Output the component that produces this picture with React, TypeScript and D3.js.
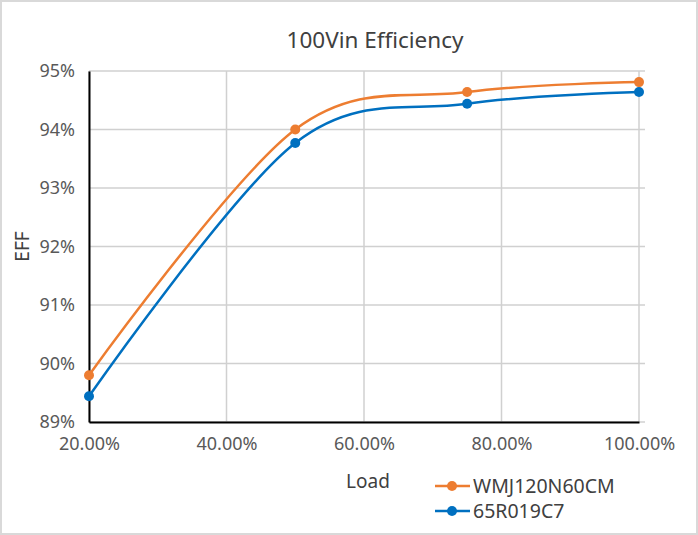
import React, { useEffect, useRef } from 'react';
import * as d3 from 'd3';

const loads = [0.2, 0.5, 0.75, 1.0];
const effWmj = [0.898, 0.94, 0.9464, 0.9481];
const eff65r = [0.8944, 0.9377, 0.9444, 0.9464];
const seriesNames = ['WMJ120N60CM', '65R019C7'];
const seriesColors = ['#ED7D31', '#0070C0'];
const xTicks = [0.2, 0.4, 0.6, 0.8, 1.0];
const yTicks = [0.89, 0.9, 0.91, 0.92, 0.93, 0.94, 0.95];

const width = 698;
const height = 535;
const font = "'Noto Sans', sans-serif";

const App: React.FC = () => {
  const ref = useRef<SVGSVGElement>(null);

  useEffect(() => {
    document.body.style.margin = '0';
    const svg = d3.select(ref.current);
    svg.selectAll('*').remove();

    const marginLeft = 89;
    const marginRight = 59;
    const marginTop = 71;
    const marginBottom = 113;

    const x = d3.scaleLinear().domain([0.2, 1.0]).range([marginLeft, width - marginRight]);
    const y = d3.scaleLinear().domain([0.89, 0.95]).range([height - marginBottom, marginTop]);

    // chart frame
    svg
      .append('rect')
      .attr('x', 1)
      .attr('y', 1)
      .attr('width', width - 2)
      .attr('height', height - 2)
      .attr('fill', '#fff')
      .attr('stroke', '#d9d9d9')
      .attr('stroke-width', 2);

    // title
    svg
      .append('text')
      .attr('x', 375)
      .attr('y', 48)
      .attr('text-anchor', 'middle')
      .attr('font-family', font)
      .attr('font-size', 22.5)
      .attr('fill', '#404040')
      .text('100Vin Efficiency');

    // gridlines
    const grid = svg.append('g').attr('stroke', '#d0d0d0').attr('stroke-width', 1.5);
    yTicks.forEach((t) => {
      grid
        .append('line')
        .attr('x1', marginLeft)
        .attr('x2', width - marginRight + 6)
        .attr('y1', y(t))
        .attr('y2', y(t));
    });
    xTicks.forEach((t) => {
      grid
        .append('line')
        .attr('x1', x(t))
        .attr('x2', x(t))
        .attr('y1', marginTop)
        .attr('y2', height - marginBottom);
    });

    // axes
    const xAxis = svg
      .append('g')
      .attr('transform', `translate(0,${height - marginBottom})`)
      .call(
        d3
          .axisBottom(x)
          .tickValues(xTicks)
          .tickSize(0)
          .tickPadding(15)
          .tickFormat((d) => d3.format('.2%')(d as number))
      );
    xAxis.select('.domain').attr('stroke', '#000').attr('stroke-width', 2);
    xAxis
      .selectAll('text')
      .attr('font-family', font)
      .attr('font-size', 18)
      .attr('fill', '#595959');

    const yAxis = svg
      .append('g')
      .attr('transform', `translate(${marginLeft},0)`)
      .call(
        d3
          .axisLeft(y)
          .tickValues(yTicks)
          .tickSize(0)
          .tickPadding(14)
          .tickFormat((d) => d3.format('.0%')(d as number))
      );
    yAxis.select('.domain').attr('stroke', '#000').attr('stroke-width', 2);
    yAxis
      .selectAll('text')
      .attr('font-family', font)
      .attr('font-size', 18)
      .attr('fill', '#595959');

    // axis titles
    svg
      .append('text')
      .attr('transform', `translate(29,${(marginTop + height - marginBottom) / 2}) rotate(-90)`)
      .attr('text-anchor', 'middle')
      .attr('font-family', font)
      .attr('font-size', 19)
      .attr('fill', '#404040')
      .text('EFF');

    svg
      .append('text')
      .attr('x', 368)
      .attr('y', 488)
      .attr('text-anchor', 'middle')
      .attr('font-family', font)
      .attr('font-size', 19)
      .attr('fill', '#404040')
      .text('Load');

    // series
    const line = d3
      .line<number>()
      .x((_d, i) => x(loads[i]))
      .y((d) => y(d))
      .curve(d3.curveCardinal.tension(0));

    [effWmj, eff65r].forEach((vals, si) => {
      svg
        .append('path')
        .datum(vals)
        .attr('fill', 'none')
        .attr('stroke', seriesColors[si])
        .attr('stroke-width', 2.5)
        .attr('d', line);

      svg
        .append('g')
        .selectAll('circle')
        .data(vals)
        .enter()
        .append('circle')
        .attr('cx', (_d, i) => x(loads[i]))
        .attr('cy', (d) => y(d))
        .attr('r', 5)
        .attr('fill', seriesColors[si]);
    });

    // legend
    const legend = svg.append('g').attr('transform', 'translate(435,486)');
    seriesNames.forEach((name, i) => {
      const g = legend.append('g').attr('transform', `translate(0,${i * 25})`);
      g.append('line')
        .attr('x1', 0)
        .attr('x2', 35)
        .attr('stroke', seriesColors[i])
        .attr('stroke-width', 2.5);
      g.append('circle').attr('cx', 17).attr('r', 5).attr('fill', seriesColors[i]);
      g.append('text')
        .attr('x', 38)
        .attr('dy', '0.35em')
        .attr('font-family', font)
        .attr('font-size', 19.5)
        .attr('fill', '#404040')
        .text(name);
    });

    return () => {
      svg.selectAll('*').remove();
    };
  }, []);

  return <svg ref={ref} width={width} height={height} style={{ display: 'block' }}></svg>;
};

export default App;
